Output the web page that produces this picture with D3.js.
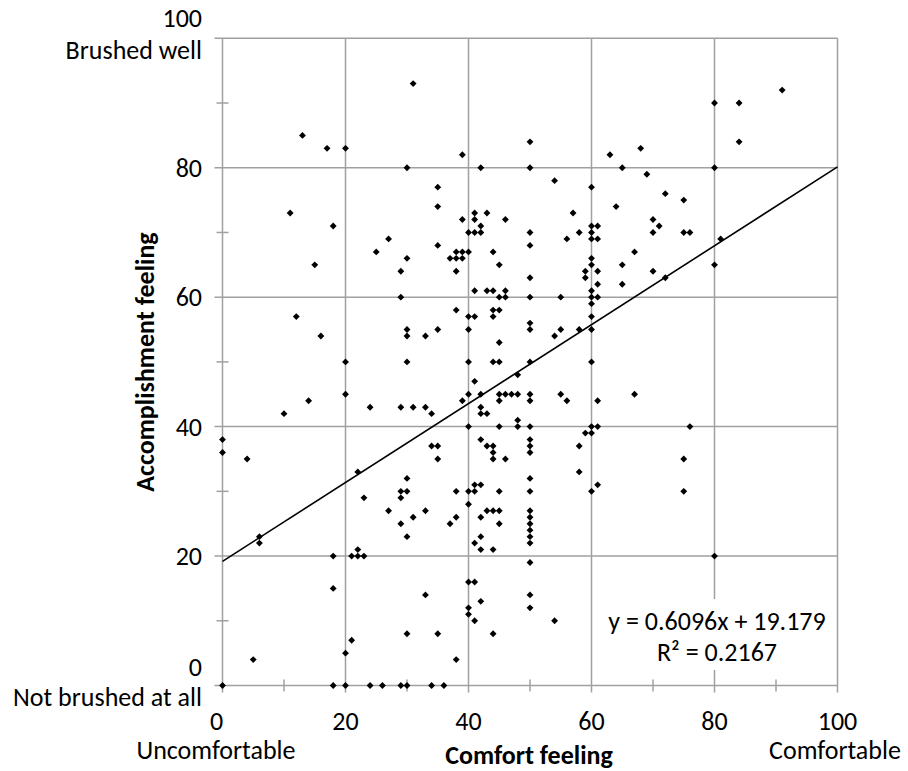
<!DOCTYPE html>
<html>
<head>
<meta charset="utf-8">
<script src="https://cdn.jsdelivr.net/npm/d3@7.9.0/dist/d3.min.js"></script>
<style>
  html, body { margin: 0; padding: 0; background: #fff; }
  svg { display: block; font-family: Carlito, "Liberation Sans Narrow", "Open Sans", sans-serif; }
</style>
</head>
<body>
<svg id="chart" width="908" height="771"></svg>
<script>
// comfort feeling (x) and accomplishment feeling (y) for each answer
const comfort = [
  31, 13, 17, 20, 39, 30, 42, 35, 35, 11, 18, 27, 39, 41, 41, 43, 42, 40, 41, 42, 46,
  50, 50, 54, 60, 57, 63, 68, 65, 69, 72, 75, 64, 70, 71, 70, 75, 76, 50, 58, 56, 60, 61, 60, 60, 61, 80, 84, 91, 84, 80, 81,
  25, 30, 29, 15, 29, 12, 16, 30, 30, 33, 30, 20, 20, 14, 10, 24, 29, 31, 33, 0, 0, 4,
  35, 38, 39, 40, 37, 38, 39, 38, 44, 45, 50, 50,
  60, 60, 59, 61, 59, 61, 67, 65, 65,
  41, 43, 44, 46, 45, 46, 50, 55, 60, 60, 61, 60, 60,
  38, 40, 41, 44, 45, 44, 35, 40, 45, 50, 50, 54, 55, 58, 60,
  40, 44, 45, 50, 60, 41, 48, 40, 42, 39, 45, 46, 47, 48, 45, 50, 50, 55, 56, 61, 67,
  34, 42, 42, 43, 40, 45, 48, 48, 50, 60, 61, 59, 60,
  42, 43, 44, 44, 44, 46, 50, 50, 50, 58, 34, 35, 35,
  70, 72, 80, 76, 75,
  22, 30, 29, 30, 29, 23, 27, 31, 33, 29, 30, 6, 6, 22, 18, 21, 22, 23, 18, 33, 30, 21, 20, 5,
  0, 18, 20, 24, 26, 29, 30,
  58, 50, 50, 61, 60, 38, 40, 41, 41, 42, 45, 40, 38, 37, 42, 43, 44, 45, 45, 42, 41, 42, 44,
  50, 50, 50, 50, 50, 50, 50, 40, 41, 42, 50, 50, 40, 40, 41, 54, 35, 44, 38, 34, 36,
  75, 80
];
const accomplishment = [
  93, 85, 83, 83, 82, 80, 80, 77, 74, 73, 71, 69, 72, 73, 72, 73, 71, 70, 70, 70, 72,
  84, 80, 78, 77, 73, 82, 83, 80, 79, 76, 75, 74, 72, 71, 70, 70, 70, 70, 70, 69, 71, 71, 70, 69, 69, 90, 90, 92, 84, 80, 69,
  67, 66, 64, 65, 60, 57, 54, 55, 54, 54, 50, 50, 45, 44, 42, 43, 43, 43, 43, 38, 36, 35,
  68, 67, 67, 67, 66, 66, 66, 64, 67, 65, 68, 63,
  66, 65, 64, 64, 63, 62, 67, 65, 62,
  61, 61, 61, 61, 60, 60, 60, 60, 61, 60, 60, 59, 57,
  58, 57, 57, 58, 58, 57, 55, 55, 53, 56, 55, 54, 55, 55, 55,
  50, 50, 50, 50, 50, 47, 48, 45, 45, 44, 45, 45, 45, 45, 44, 45, 44, 45, 44, 44, 45,
  42, 43, 42, 42, 40, 40, 41, 40, 40, 40, 40, 39, 39,
  38, 37, 37, 36, 35, 35, 38, 37, 36, 37, 37, 37, 35,
  64, 63, 65, 40, 35,
  33, 32, 30, 30, 29, 29, 27, 26, 27, 25, 23, 23, 22, 21, 20, 20, 20, 20, 15, 14, 8, 7, 5, 4,
  0, 0, 0, 0, 0, 0, 0,
  33, 32, 30, 31, 30, 30, 30, 30, 31, 31, 30, 28, 26, 25, 26, 27, 27, 27, 25, 23, 22, 21, 21,
  27, 26, 25, 24, 23, 22, 19, 16, 16, 13, 14, 12, 12, 11, 10, 10, 8, 8, 4, 0, 0,
  30, 20
];

const slope = 0.6096;
const intercept = 19.179;
const rSquared = 0.2167;
const majorTicks = [0, 20, 40, 60, 80, 100];
const minorTicks = [10, 30, 50, 70, 90];

const svg = d3.select('#chart');
const x = d3.scaleLinear().domain([0, 100]).range([222.5, 837.5]);
const y = d3.scaleLinear().domain([0, 100]).range([685.5, 38.3]);
const grey = '#a0a0a0';
const fs = 26;

// grid
svg.append('g').selectAll('line')
  .data(majorTicks.slice(1))
  .join('line')
  .attr('x1', d => x(d)).attr('x2', d => x(d))
  .attr('y1', y(100)).attr('y2', y(0) + 7)
  .attr('stroke', grey).attr('stroke-width', 1.5);

svg.append('g').selectAll('line')
  .data(majorTicks.slice(1))
  .join('line')
  .attr('x1', x(0) - 8).attr('x2', x(100))
  .attr('y1', d => y(d)).attr('y2', d => y(d))
  .attr('stroke', grey).attr('stroke-width', 1.5);

// axes
svg.append('line')
  .attr('x1', x(0)).attr('x2', x(0)).attr('y1', y(100)).attr('y2', y(0) + 7)
  .attr('stroke', grey).attr('stroke-width', 1.5);
svg.append('line')
  .attr('x1', x(0) - 8).attr('x2', x(100)).attr('y1', y(0)).attr('y2', y(0))
  .attr('stroke', grey).attr('stroke-width', 1.5);

svg.append('g').selectAll('line')
  .data(minorTicks)
  .join('line')
  .attr('x1', d => x(d)).attr('x2', d => x(d))
  .attr('y1', y(0) - 6).attr('y2', y(0) + 6)
  .attr('stroke', grey).attr('stroke-width', 1.5);
svg.append('g').selectAll('line')
  .data(minorTicks)
  .join('line')
  .attr('x1', x(0) - 6).attr('x2', x(0) + 6)
  .attr('y1', d => y(d)).attr('y2', d => y(d))
  .attr('stroke', grey).attr('stroke-width', 1.5);

// points
const points = comfort.map((c, i) => ({ c, a: accomplishment[i] }));
svg.append('g').selectAll('path')
  .data(points)
  .join('path')
  .attr('transform', d => `translate(${x(d.c)},${y(d.a)})`)
  .attr('d', d3.symbol(d3.symbolDiamond2, 30))
  .attr('fill', '#000');

// trend line
svg.append('line')
  .attr('x1', x(0)).attr('y1', y(intercept))
  .attr('x2', x(100)).attr('y2', y(slope * 100 + intercept))
  .attr('stroke', '#000').attr('stroke-width', 1.6);

// equation box
svg.append('rect')
  .attr('x', 602).attr('y', 599).attr('width', 233).attr('height', 71)
  .attr('fill', '#fff');
const eq = svg.append('text')
  .attr('text-anchor', 'middle').attr('font-size', fs).attr('fill', '#000');
eq.append('tspan').attr('x', 717).attr('y', 621).attr('dy', '0.35em').text(`y = ${slope}x + ${intercept}`);
eq.append('tspan').attr('x', 717).attr('y', 652).attr('dy', '0.35em').text(`R² = ${rSquared}`);

// y tick labels
const yLab = svg.append('g').attr('font-size', fs).attr('text-anchor', 'end');
yLab.selectAll('text')
  .data([20, 40, 60, 80])
  .join('text')
  .attr('x', 202).attr('y', d => y(d)).attr('dy', '0.35em')
  .text(d => d);
yLab.append('text').attr('x', 202).attr('y', 18).attr('dy', '0.35em').text('100');
yLab.append('text').attr('x', 202).attr('y', 50).attr('dy', '0.35em').text('Brushed well');
yLab.append('text').attr('x', 202).attr('y', 667).attr('dy', '0.35em').text('0');
yLab.append('text').attr('x', 202).attr('y', 697).attr('dy', '0.35em').text('Not brushed at all');

// x tick labels
const xLab = svg.append('g').attr('font-size', fs).attr('text-anchor', 'middle');
xLab.selectAll('text')
  .data(majorTicks)
  .join('text')
  .attr('x', d => d === 0 ? x(d) - 6 : x(d)).attr('y', 721).attr('dy', '0.35em')
  .text(d => d);
xLab.append('text').attr('x', 216).attr('y', 750).attr('dy', '0.35em').text('Uncomfortable');
xLab.append('text').attr('x', 835).attr('y', 750).attr('dy', '0.35em').text('Comfortable');

// axis titles
svg.append('text')
  .attr('x', 529).attr('y', 755).attr('dy', '0.35em')
  .attr('text-anchor', 'middle').attr('font-size', fs).attr('font-weight', 'bold')
  .text('Comfort feeling');
svg.append('text')
  .attr('transform', 'translate(145,362) rotate(-90)')
  .attr('dy', '0.35em')
  .attr('text-anchor', 'middle').attr('font-size', fs).attr('font-weight', 'bold')
  .text('Accomplishment feeling');
</script>
</body>
</html>
